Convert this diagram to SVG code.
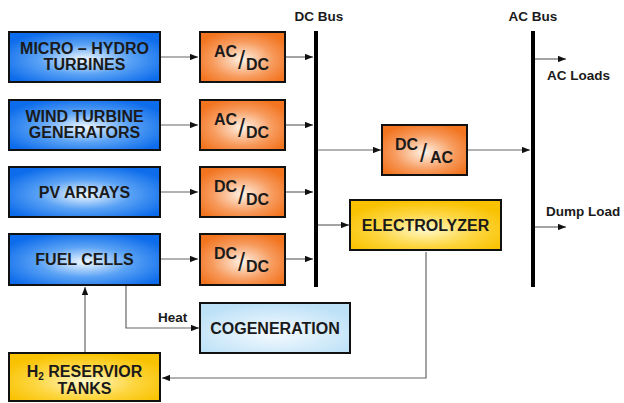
<svg xmlns="http://www.w3.org/2000/svg" width="624" height="403" viewBox="0 0 624 403">
<style>
.box{stroke:#111;stroke-width:2}
.b{fill:url(#gBlue)}
.o{fill:url(#gOrange)}
.y{fill:url(#gYellow)}
.c{fill:url(#gCogen)}
.t{font-family:"Liberation Sans",Arial,sans-serif;font-weight:bold;fill:#1a1a1a}
.lbl{font-size:16px;text-anchor:middle}
.cv{font-size:16px}
.sl{font-family:"Liberation Sans",Arial,sans-serif;font-size:25px;fill:#1a1a1a}
.sm{font-size:13.5px}
.ln{stroke:#666;stroke-width:1.2;fill:none}
.bus{stroke:#000;stroke-width:4;fill:none}
</style>
<defs>
<radialGradient id="gBlue" cx="0.5" cy="0.55" r="0.6">
<stop offset="0" stop-color="#f2f9ff"/><stop offset="0.5" stop-color="#5aa2f5"/><stop offset="1" stop-color="#0d6ceb"/>
</radialGradient>
<radialGradient id="gOrange" cx="0.5" cy="0.55" r="0.6">
<stop offset="0" stop-color="#fff2e6"/><stop offset="0.6" stop-color="#f79a5c"/><stop offset="1" stop-color="#f2741f"/>
</radialGradient>
<radialGradient id="gYellow" cx="0.5" cy="0.6" r="0.6">
<stop offset="0" stop-color="#fff8c8"/><stop offset="0.55" stop-color="#fdd640"/><stop offset="1" stop-color="#f9c200"/>
</radialGradient>
<radialGradient id="gCogen" cx="0.5" cy="0.6" r="0.6">
<stop offset="0" stop-color="#f6fbff"/><stop offset="1" stop-color="#bde1f7"/>
</radialGradient>
<marker id="ah" viewBox="0 0 10 8" refX="10" refY="4" markerWidth="8" markerHeight="6.4" markerUnits="userSpaceOnUse" orient="auto">
<path d="M0,0 L10,4 L0,8 z" fill="#111"/>
</marker>
</defs>

<g id="connectors">
<line class="ln" x1="161" y1="57" x2="198" y2="57" marker-end="url(#ah)"/>
<line class="ln" x1="161" y1="125" x2="198" y2="125" marker-end="url(#ah)"/>
<line class="ln" x1="161" y1="192" x2="198" y2="192" marker-end="url(#ah)"/>
<line class="ln" x1="161" y1="259" x2="198" y2="259" marker-end="url(#ah)"/>
<line class="ln" x1="286" y1="57" x2="313" y2="57" marker-end="url(#ah)"/>
<line class="ln" x1="286" y1="125" x2="313" y2="125" marker-end="url(#ah)"/>
<line class="ln" x1="286" y1="192" x2="313" y2="192" marker-end="url(#ah)"/>
<line class="ln" x1="286" y1="259" x2="313" y2="259" marker-end="url(#ah)"/>
<line class="ln" x1="318" y1="150" x2="381" y2="150" marker-end="url(#ah)"/>
<line class="ln" x1="468" y1="150" x2="530" y2="150" marker-end="url(#ah)"/>
<line class="ln" x1="318" y1="225" x2="349" y2="225" marker-end="url(#ah)"/>
<line class="ln" x1="535" y1="59" x2="566" y2="59" marker-end="url(#ah)"/>
<line class="ln" x1="535" y1="227" x2="566" y2="227" marker-end="url(#ah)"/>
<polyline class="ln" points="126,286 126,328 199,328" marker-end="url(#ah)"/>
<polyline class="ln" points="426,252 426,378 162,378" marker-end="url(#ah)"/>
<line class="ln" x1="85" y1="353" x2="85" y2="287" marker-end="url(#ah)"/>
<line class="bus" x1="316" y1="31" x2="316" y2="287"/>
<line class="bus" x1="533" y1="31" x2="533" y2="287"/>
<text class="t sm" x="319" y="21" text-anchor="middle">DC Bus</text>
<text class="t sm" x="533" y="21" text-anchor="middle">AC Bus</text>
<text class="t sm" x="547" y="80">AC Loads</text>
<text class="t sm" x="546" y="216">Dump Load</text>
<text class="t sm" x="158" y="322">Heat</text>
</g>

<g id="micro-hydro">
<rect class="box b" x="9" y="32" width="151" height="50"/>
<text class="t lbl" x="84.5" y="54">MICRO – HYDRO</text>
<text class="t lbl" x="84.5" y="70">TURBINES</text>
</g>
<g id="wind">
<rect class="box b" x="9" y="100" width="151" height="50"/>
<text class="t lbl" x="84.5" y="122">WIND TURBINE</text>
<text class="t lbl" x="84.5" y="138">GENERATORS</text>
</g>
<g id="pv">
<rect class="box b" x="9" y="167" width="151" height="50"/>
<text class="t lbl" x="84.5" y="197.5">PV ARRAYS</text>
</g>
<g id="fuel-cells">
<rect class="box b" x="9" y="234" width="151" height="51"/>
<text class="t lbl" x="84.5" y="264.5">FUEL CELLS</text>
</g>

<g id="acdc1">
<rect class="box o" x="200" y="32" width="85" height="50"/>
<text class="t cv" x="214" y="57">AC</text>
<text class="sl" x="238" y="69">/</text>
<text class="t cv" x="246" y="70">DC</text>
</g>
<g id="acdc2">
<rect class="box o" x="200" y="100" width="85" height="50"/>
<text class="t cv" x="214" y="125">AC</text>
<text class="sl" x="238" y="137">/</text>
<text class="t cv" x="246" y="138">DC</text>
</g>
<g id="dcdc1">
<rect class="box o" x="200" y="167" width="85" height="50"/>
<text class="t cv" x="214" y="192">DC</text>
<text class="sl" x="238" y="204">/</text>
<text class="t cv" x="246" y="205">DC</text>
</g>
<g id="dcdc2">
<rect class="box o" x="200" y="234" width="85" height="51"/>
<text class="t cv" x="214" y="259">DC</text>
<text class="sl" x="238" y="271">/</text>
<text class="t cv" x="246" y="272">DC</text>
</g>

<g id="dcac">
<rect class="box o" x="382" y="125" width="85" height="50"/>
<text class="t cv" x="395" y="150">DC</text>
<text class="sl" x="420" y="162">/</text>
<text class="t cv" x="430" y="163">AC</text>
</g>

<g id="electrolyzer">
<rect class="box y" x="350" y="200" width="151" height="50"/>
<text class="t lbl" x="425.5" y="231">ELECTROLYZER</text>
</g>

<g id="cogeneration">
<rect class="box c" x="200" y="303" width="150" height="50"/>
<text class="t lbl" x="275" y="333.5">COGENERATION</text>
</g>

<g id="h2-tanks">
<rect class="box y" x="9" y="353" width="151" height="48"/>
<text class="t lbl" x="84.5" y="377">H<tspan font-size="10" dy="3">2</tspan><tspan dy="-3"> RESERVIOR</tspan></text>
<text class="t lbl" x="84.5" y="393.5">TANKS</text>
</g>
</svg>
